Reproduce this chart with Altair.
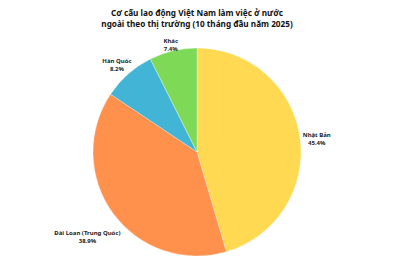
import altair as alt
import pandas as pd

categories = ["Nhật Bản", "Đài Loan (Trung Quốc)", "Hàn Quốc", "Khác"]
shares = [45.4, 38.9, 8.2, 7.4]
colors = ["#FFD951", "#FF914D", "#42B4D6", "#7ED957"]
title_lines = ["Cơ cấu lao động Việt Nam làm việc ở nước",
               "ngoài theo thị trường (10 tháng đầu năm 2025)"]

df = pd.DataFrame({"cat": categories, "share": shares, "order": list(range(len(categories)))})

base = alt.Chart(df).transform_joinaggregate(
    total="sum(share)"
).transform_window(
    cum="sum(share)", sort=[alt.SortField("order")], frame=[None, 0]
).transform_calculate(
    t_end="datum.cum / datum.total",
    t_start="(datum.cum - datum.share) / datum.total",
    t_mid="(datum.cum - datum.share / 2) / datum.total",
)

tscale = alt.Scale(domain=[0, 1], range=[0, 6.283185307179586])

arcs = base.mark_arc(outerRadius=104, stroke="white", strokeWidth=0.3).encode(
    theta=alt.Theta("t_start:Q", scale=tscale),
    theta2="t_end:Q",
    color=alt.Color("cat:N", scale=alt.Scale(domain=categories, range=colors), legend=None),
)

labels = base.transform_calculate(
    label="datum.cat + '\\n' + format(datum.share, '.1f') + '%'",
    lr="datum.cat == 'Đài Loan (Trung Quốc)' ? 136 : (datum.cat == 'Khác' ? 114 : 121)",
).mark_text(
    font="Noto Sans", fontWeight="bold", fontSize=6, lineBreak="\n",
    lineHeight=8, color="#222222", align="center", baseline="middle",
).encode(
    theta=alt.Theta("t_mid:Q", scale=tscale),
    text="label:N",
    radius=alt.Radius("lr:Q", scale=None),
)

chart = alt.layer(arcs, labels).properties(
    width=394, height=216,
    title=alt.TitleParams(
        text=title_lines, font="Noto Sans", fontWeight="bold", fontSize=8.2,
        color="#111111", anchor="middle", offset=9, lineHeight=10.5,
    ),
    autosize=alt.AutoSizeParams(type="none"),
    padding={"left": 0, "top": 44, "right": 0, "bottom": 0},
).configure_view(stroke=None)

chart.save("out.html", embed_options={"renderer": "svg", "actions": False})
